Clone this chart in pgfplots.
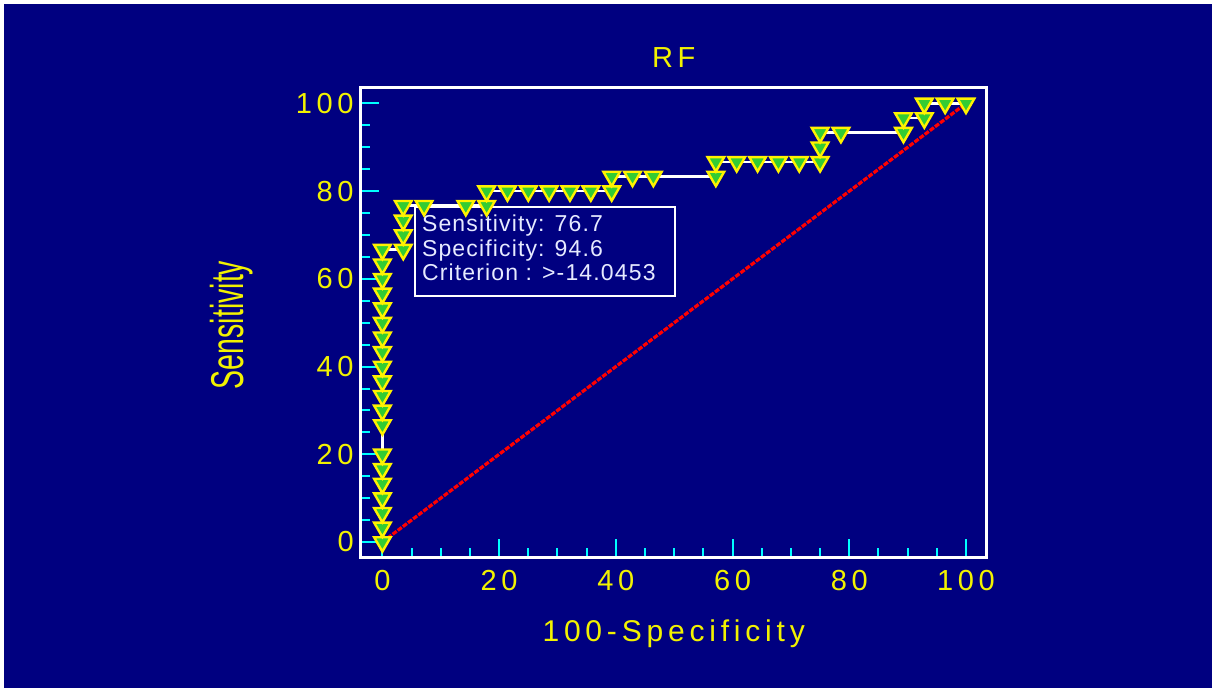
\documentclass[border=0pt]{standalone}
\usepackage{fontspec}
\setmainfont{Liberation Sans}
\newfontfamily\wide[LetterSpace=16]{Liberation Sans}
\newfontfamily\annfont[LetterSpace=5]{Liberation Sans}
\usepackage{pgfplots}
\usepackage{pgfplotstable}
\pgfplotsset{compat=1.18}
\definecolor{navy}{HTML}{000080}
\definecolor{ylw}{HTML}{F2F200}
\definecolor{mkgreen}{HTML}{33CC33}
\definecolor{tickcyan}{HTML}{00FFFF}
\definecolor{anntext}{HTML}{E6EAFF}

\pgfplotstableread{
x y
0 0
0 3.33
0 6.67
0 10
0 13.33
0 16.67
0 20
0 26.67
0 30
0 33.33
0 36.67
0 40
0 43.33
0 46.67
0 50
0 53.33
0 56.67
0 60
0 63.33
0 66.67
3.57 66.67
3.57 70
3.57 73.33
3.57 76.67
7.14 76.67
14.29 76.67
17.86 76.67
17.86 80
21.43 80
25.00 80
28.57 80
32.14 80
35.71 80
39.29 80
39.29 83.33
42.86 83.33
46.43 83.33
57.14 83.33
57.14 86.67
60.71 86.67
64.29 86.67
67.86 86.67
71.43 86.67
75.00 86.67
75.00 90
75.00 93.33
78.57 93.33
89.29 93.33
89.29 96.67
92.86 96.67
92.86 100
96.43 100
100 100
}\roc

\begin{document}
\begin{tikzpicture}[x=1pt,y=1pt]
\useasboundingbox (0,0) rectangle (606,343.5);
\fill[navy] (-5,-5) rectangle (615,350);
\fill[white] (-5,341.5) rectangle (615,350);
\fill[white] (-5,-5) rectangle (2,350);
\begin{axis}[
  at={(180.35pt,65pt)}, anchor=south west,
  scale only axis, width=313pt, height=234.85pt,
  xmin=-3.72, xmax=103.55, ymin=-3.42, ymax=103.69,
  xtick={0,20,...,100}, ytick={0,20,...,100},
  minor tick num=3,
  tick pos=left, tick align=inside,
  major tick length=9pt, minor tick length=4.5pt,
  tick style={tickcyan, line width=1pt},
  axis line style={white, line width=1.5pt},
  /pgf/number format/assume math mode=true,
  ticklabel style={font=\wide\fontsize{14.5}{14.5}\selectfont, text=ylw},
  xticklabel style={yshift=-3pt},
  title={RF},
  title style={at={(axis description cs:0.5,1)}, anchor=center, yshift=9pt,
    font=\wide\fontsize{14.5}{14.5}\selectfont, text=ylw},
  xlabel={100-Specificity},
  every axis x label/.style={at={(axis description cs:0.5,0)}, anchor=base, yshift=-42pt,
    font=\wide\fontsize{15}{15}\selectfont, text=ylw},
  ylabel={Sensitivity},
  every axis y label/.style={at={(axis description cs:-0.188,0.494)}, rotate=90, xscale=0.62, anchor=base,
    font=\fontsize{23}{23}\selectfont, text=ylw},
  clip=false,
]
\addplot[red, line width=1.6pt, dash pattern=on 2.5pt off 0.7pt] coordinates {(0,0) (100,100)};
\addplot[white, line width=1.3pt] table[x=x,y=y] {\roc};
\addplot[only marks, mark=triangle*, mark size=4.8pt,
  mark options={rotate=180, fill=mkgreen, draw=yellow, line width=1.2pt, solid}] table[x=x,y=y] {\roc};
\draw[white, line width=1pt, fill=navy] (axis cs:5.58,56.1) rectangle (axis cs:50.1,76.4);
\node[anchor=base west, inner sep=0pt, text=anntext, font=\annfont\fontsize{11.5}{11.5}\selectfont] at (axis cs:6.73,70.8) {Sensitivity: 76.7};
\node[anchor=base west, inner sep=0pt, text=anntext, font=\annfont\fontsize{11.5}{11.5}\selectfont] at (axis cs:6.73,65.1) {Specificity: 94.6};
\node[anchor=base west, inner sep=0pt, text=anntext, font=\annfont\fontsize{11.5}{11.5}\selectfont] at (axis cs:6.73,59.6) {Criterion : >-14.0453};
\end{axis}
\end{tikzpicture}
\end{document}
